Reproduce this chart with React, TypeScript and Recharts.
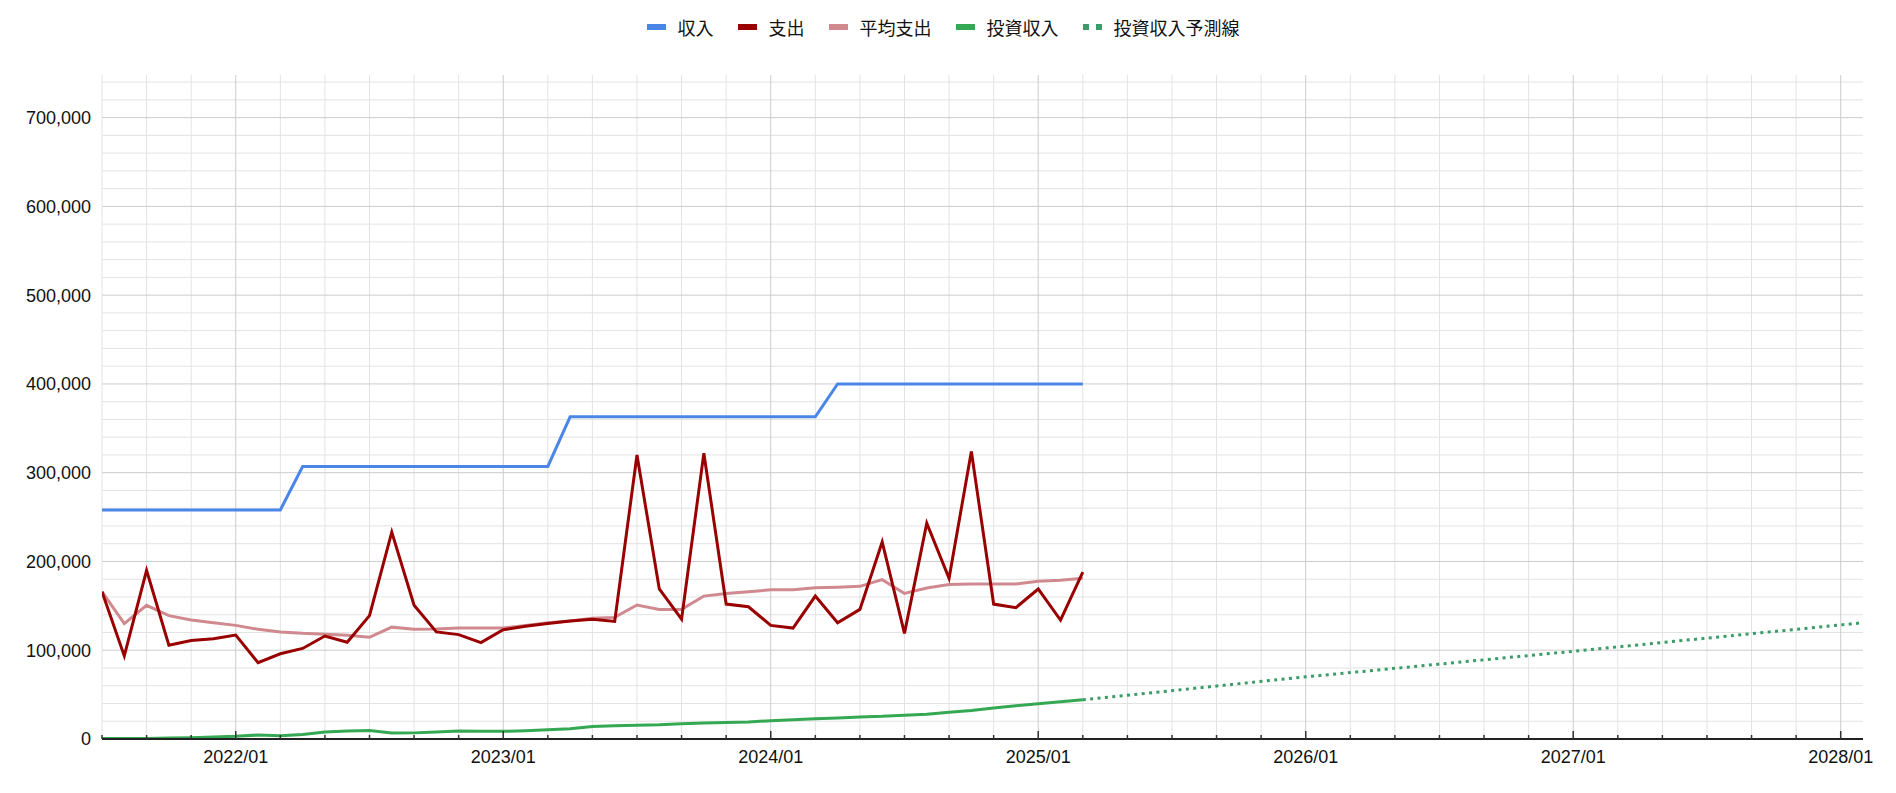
import React from 'react';
import { LineChart, Line, XAxis, YAxis, CartesianGrid } from 'recharts';

// ---- Data ----
const months = [
  '2021/07', '2021/08', '2021/09', '2021/10', '2021/11', '2021/12',
  '2022/01', '2022/02', '2022/03', '2022/04', '2022/05', '2022/06',
  '2022/07', '2022/08', '2022/09', '2022/10', '2022/11', '2022/12',
  '2023/01', '2023/02', '2023/03', '2023/04', '2023/05', '2023/06',
  '2023/07', '2023/08', '2023/09', '2023/10', '2023/11', '2023/12',
  '2024/01', '2024/02', '2024/03', '2024/04', '2024/05', '2024/06',
  '2024/07', '2024/08', '2024/09', '2024/10', '2024/11', '2024/12',
  '2025/01', '2025/02', '2025/03',
];

const income = [
  258000, 258000, 258000, 258000, 258000, 258000, 258000, 258000, 258000,
  307000, 307000, 307000, 307000, 307000, 307000, 307000, 307000, 307000, 307000, 307000, 307000,
  363000, 363000, 363000, 363000, 363000, 363000, 363000, 363000, 363000, 363000, 363000, 363000,
  400000, 400000, 400000, 400000, 400000, 400000, 400000, 400000, 400000, 400000, 400000, 400000,
];

const expense = [
  166000, 93600, 190000, 105600, 111000, 113000,
  117000, 86000, 96000, 102000, 116000, 109000,
  139000, 233000, 150600, 120600, 117600, 108600,
  123000, 127000, 130000, 133000, 135000, 132500,
  320000, 169000, 135000, 322000, 152000, 149000,
  128000, 125000, 161000, 131000, 146000, 222000,
  119000, 243000, 181000, 324000, 152000, 148000,
  169000, 134000, 188000,
];

const avgExpense = [
  166000, 130000, 150600, 139000, 134000, 131000,
  128000, 123600, 120600, 119000, 118000, 117000,
  114600, 126000, 123600, 124000, 125000, 125000,
  125000, 128000, 131000, 133000, 136000, 137000,
  151000, 146000, 146000, 161000, 164000, 166000,
  168000, 168000, 170500, 171000, 172000, 179500,
  164000, 170000, 174000, 174600, 174600, 174600,
  177600, 178700, 181000,
];

const investIncome = [
  700, 600, 700, 1000, 1500, 2200,
  3000, 4500, 3700, 5000, 7800, 9000,
  9700, 6700, 6900, 7800, 9000, 8600,
  8600, 9300, 10500, 11600, 14200, 15000,
  15400, 16000, 17200, 18000, 18700, 19100,
  20600, 21700, 22900, 23600, 24800, 25500,
  26800, 28000, 30000, 32000, 34900, 37500,
  39800, 42000, 44200,
];

const forecastMonths = ['2025/03', '2026/01', '2027/01', '2028/01', '2028/02'];
const forecastValues = [44200, 70000, 98800, 128500, 131000];

const yearLabels = ['2022/01', '2023/01', '2024/01', '2025/01', '2026/01', '2027/01', '2028/01'];
const yTickValues = [0, 100000, 200000, 300000, 400000, 500000, 600000, 700000];

const legendItems = [
  { name: '収入', color: '#4a86e8', dotted: false },
  { name: '支出', color: '#990000', dotted: false },
  { name: '平均支出', color: '#d0898f', dotted: false },
  { name: '投資収入', color: '#34a853', dotted: false },
  { name: '投資収入予測線', color: '#3b9c68', dotted: true },
];

// ---- Helpers ----
const START_YEAR = 2021;
const START_MONTH = 7;
const toIndex = (s: string) => {
  const [y, m] = s.split('/').map(Number);
  return (y - START_YEAR) * 12 + (m - START_MONTH);
};
const toLabel = (i: number) => {
  const total = START_MONTH - 1 + i;
  const y = START_YEAR + Math.floor(total / 12);
  const m = (total % 12) + 1;
  return `${y}/${m < 10 ? '0' + m : m}`;
};

const X_MAX = toIndex('2028/02');
const Y_MAX = 748000;

const rows: any[] = months.map((mo, i) => ({
  t: toIndex(mo),
  income: income[i],
  expense: expense[i],
  avg: avgExpense[i],
  invest: investIncome[i],
}));
forecastMonths.forEach((mo, i) => {
  const t = toIndex(mo);
  const row = rows.find((r) => r.t === t);
  if (row) row.forecast = forecastValues[i];
  else rows.push({ t, forecast: forecastValues[i] });
});
rows.sort((a, b) => a.t - b.t);

const twoMonthTicks: number[] = [];
for (let t = 0; t <= X_MAX; t += 2) twoMonthTicks.push(t);
const janTicks = yearLabels.map(toIndex);
const minorVertical = twoMonthTicks.filter((t) => !janTicks.includes(t));

const minorHorizontal: number[] = [];
for (let v = 20000; v <= 740000; v += 20000) if (v % 100000 !== 0) minorHorizontal.push(v);
const majorHorizontal = yTickValues.filter((v) => v > 0);

const FONT = '"Liberation Sans", Arial, sans-serif';
const CJK = '"Noto Sans CJK JP", "Liberation Sans", sans-serif';

const XTick = (props: any) => {
  const { x, y, payload } = props;
  const label = toLabel(payload.value);
  const isJan = yearLabels.includes(label);
  return (
    <g>
      <line x1={x} x2={x} y1={y} y2={y - (isJan ? 8 : 4)} stroke="#333" strokeWidth={1.5} />
      {isJan && (
        <text x={x} y={y + 24} textAnchor="middle" fontSize={18} fill="#111" fontFamily={FONT}>
          {label}
        </text>
      )}
    </g>
  );
};

const Legend = () => (
  <div
    style={{
      position: 'absolute',
      top: 15,
      left: -5,
      width: 1896,
      height: 24,
      display: 'flex',
      justifyContent: 'center',
      alignItems: 'center',
      fontFamily: CJK,
      fontSize: 18,
      color: '#111',
      zIndex: 2,
    }}
  >
    {legendItems.map((it, i) => (
      <div key={it.name} style={{ display: 'flex', alignItems: 'center', marginLeft: i === 0 ? 0 : 24 }}>
        {it.dotted ? (
          <div style={{ width: 19, height: 6, display: 'flex', justifyContent: 'space-between' }}>
            <div style={{ width: 6, height: 6, background: it.color }} />
            <div style={{ width: 6, height: 6, background: it.color }} />
          </div>
        ) : (
          <div style={{ width: 19, height: 6, background: it.color }} />
        )}
        <span style={{ marginLeft: 12, lineHeight: '24px' }}>{it.name}</span>
      </div>
    ))}
  </div>
);

export default function App() {
  return (
    <div style={{ position: 'absolute', left: 0, top: 0, width: 1896, height: 793, background: '#fff' }}>
      <Legend />
      <LineChart
        width={1896}
        height={793}
        data={rows}
        margin={{ top: 75, right: 33, bottom: 0, left: 0 }}
      >
        <CartesianGrid
          stroke="#e3e3e3"
          strokeWidth={1}
          horizontalValues={minorHorizontal}
          verticalValues={minorVertical}
        />
        <CartesianGrid
          stroke="#cccccc"
          strokeWidth={1}
          horizontalValues={majorHorizontal}
          verticalValues={janTicks}
        />
        <XAxis
          dataKey="t"
          type="number"
          domain={[0, X_MAX]}
          ticks={twoMonthTicks}
          interval={0}
          tick={<XTick />}
          tickLine={false}
          tickSize={0}
          tickMargin={0}
          axisLine={{ stroke: '#222', strokeWidth: 2 }}
          height={54}
          allowDataOverflow
        />
        <YAxis
          type="number"
          domain={[0, Y_MAX]}
          ticks={yTickValues}
          interval={0}
          tickFormatter={(v: number) => v.toLocaleString('en-US')}
          tick={{ fontSize: 18, fill: '#111', fontFamily: FONT }}
          tickLine={false}
          axisLine={false}
          tickSize={0}
          tickMargin={11}
          width={102}
          allowDataOverflow
        />
        <Line type="linear" dataKey="income" stroke="#4a86e8" strokeWidth={3} dot={false} activeDot={false} isAnimationActive={false} connectNulls />
        <Line type="linear" dataKey="avg" stroke="#d0898f" strokeWidth={3} dot={false} activeDot={false} isAnimationActive={false} connectNulls />
        <Line type="linear" dataKey="expense" stroke="#990000" strokeWidth={3} strokeLinejoin="miter" dot={false} activeDot={false} isAnimationActive={false} connectNulls />
        <Line type="linear" dataKey="invest" stroke="#34a853" strokeWidth={3} dot={false} activeDot={false} isAnimationActive={false} connectNulls />
        <Line type="linear" dataKey="forecast" stroke="#3b9c68" strokeWidth={3} strokeDasharray="3 4.4" dot={false} activeDot={false} isAnimationActive={false} connectNulls />
      </LineChart>
    </div>
  );
}
